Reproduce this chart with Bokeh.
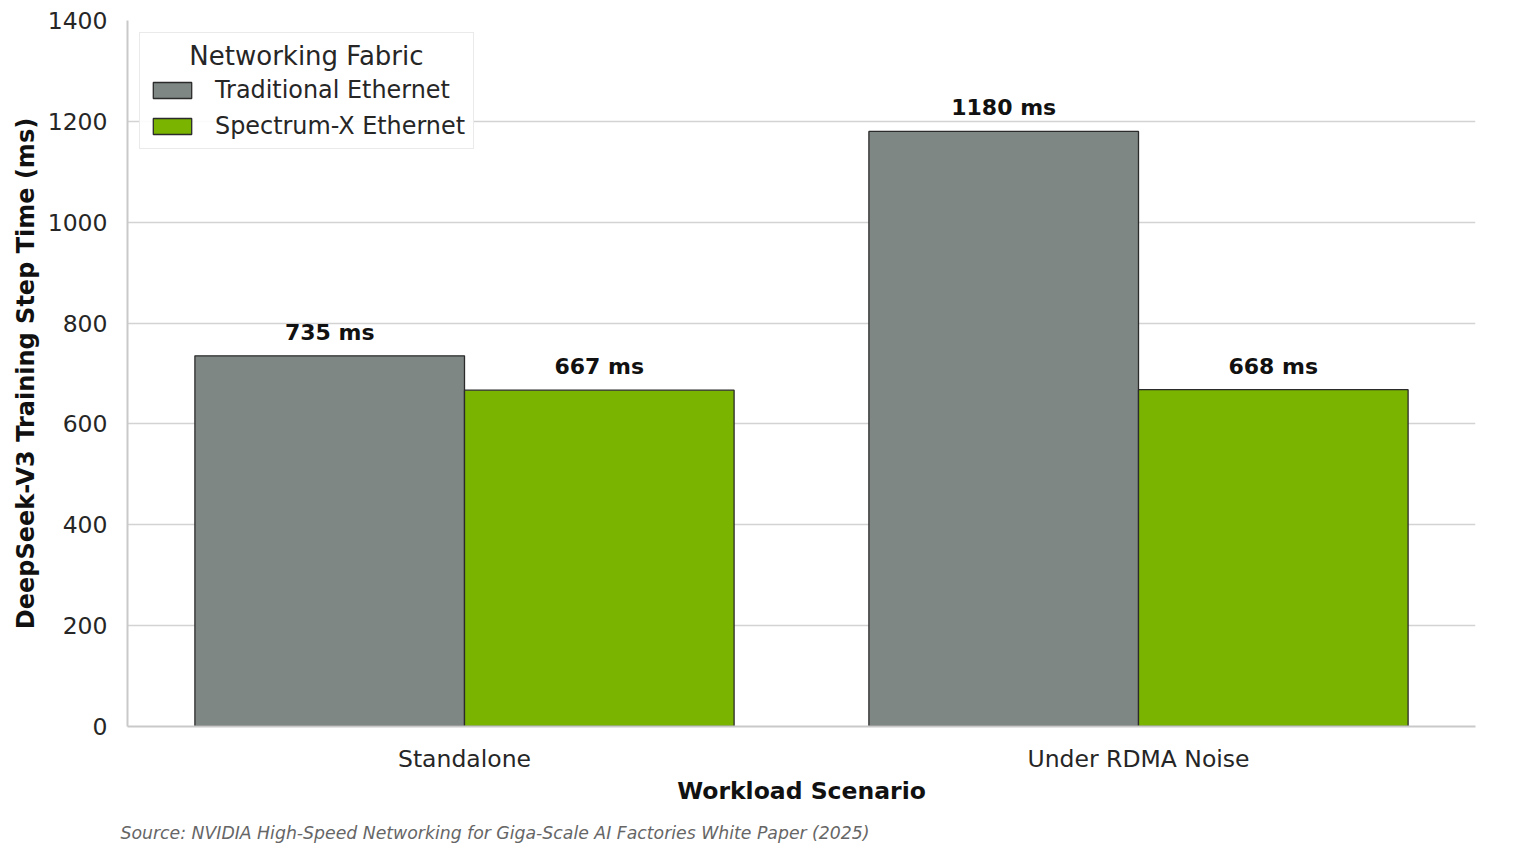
from bokeh.plotting import figure
from bokeh.models import (ColumnDataSource, FactorRange, Range1d, FixedTicker, Legend,
                          LegendItem, Title)
from bokeh.transform import dodge
from bokeh.core.properties import value
from bokeh.embed import file_html
from bokeh.resources import INLINE

# ---- data ----
scenarios = ["Standalone", "Under RDMA Noise"]
traditional = [735, 1180]
spectrum_x = [667, 668]
series_names = ["Traditional Ethernet", "Spectrum-X Ethernet"]
y_ticks = [0, 200, 400, 600, 800, 1000, 1200, 1400]
source_note = "Source: NVIDIA High-Speed Networking for Giga-Scale AI Factories White Paper (2025)"

FONT = "DejaVu Sans"
GRAY = "#7f8785"
GREEN = "#7ab300"
TXT = "#262626"

src = ColumnDataSource(dict(
    x=scenarios,
    trad=traditional,
    spec=spectrum_x,
    trad_lbl=[f"{v} ms" for v in traditional],
    spec_lbl=[f"{v} ms" for v in spectrum_x],
))

p = figure(width=1528, height=856, output_backend="svg", toolbar_location=None,
           x_range=FactorRange(*scenarios), y_range=Range1d(0, 1400),
           min_border_left=127, min_border_right=53, min_border_top=20,
           min_border_bottom=130)

r1 = p.vbar(x=dodge("x", -0.2, range=p.x_range), top="trad", width=0.4, source=src,
            fill_color=GRAY, line_color="#2b2b2b", line_width=1.3)
r2 = p.vbar(x=dodge("x", 0.2, range=p.x_range), top="spec", width=0.4, source=src,
            fill_color=GREEN, line_color="#2b2b2b", line_width=1.3)

p.text(x=dodge("x", -0.2, range=p.x_range), y="trad", text="trad_lbl", source=src,
       text_align="center", text_baseline="bottom", y_offset=-11,
       text_font=value(FONT), text_font_style="bold", text_font_size="22px", text_color="#111111")
p.text(x=dodge("x", 0.2, range=p.x_range), y="spec", text="spec_lbl", source=src,
       text_align="center", text_baseline="bottom", y_offset=-11,
       text_font=value(FONT), text_font_style="bold", text_font_size="22px", text_color="#111111")

# axes styling
p.outline_line_color = None
p.xgrid.grid_line_color = None
p.ygrid.grid_line_color = "#d3d3d3"
p.ygrid.grid_line_width = 1.5
p.yaxis.ticker = FixedTicker(ticks=y_ticks)

for ax in (p.xaxis[0], p.yaxis[0]):
    ax.axis_line_color = "#c9c9c9"
    ax.axis_line_width = 2
    ax.major_tick_line_color = None
    ax.minor_tick_line_color = None
    ax.major_tick_out = 0
    ax.major_tick_in = 0
    ax.major_label_text_font = FONT
    ax.major_label_text_font_size = "23.5px"
    ax.major_label_text_color = TXT
    ax.axis_label_text_font = FONT
    ax.axis_label_text_font_style = "bold"
    ax.axis_label_text_color = "#111111"

p.xaxis.axis_label = "Workload Scenario"
p.xaxis.axis_label_text_font_size = "23.5px"
p.xaxis.major_label_standoff = 18
p.xaxis.axis_label_standoff = 1
p.yaxis.axis_label = "DeepSeek-V3 Training Step Time (ms)"
p.yaxis.axis_label_text_font_size = "24px"
p.yaxis.major_label_standoff = 20
p.yaxis.axis_label_standoff = 5

legend = Legend(items=[LegendItem(label=series_names[0], renderers=[r1]),
                       LegendItem(label=series_names[1], renderers=[r2])],
                location="top_left")
legend.title = "\u00a0\u00a0\u00a0\u00a0\u00a0Networking Fabric"
legend.title_text_font = FONT
legend.title_text_font_size = "26px"
legend.title_text_font_style = "normal"
legend.title_text_color = TXT
legend.title_standoff = 5
legend.label_text_font = FONT
legend.label_text_font_size = "23.9px"
legend.label_text_color = TXT
legend.glyph_width = 48
legend.glyph_height = 20
legend.label_standoff = 19
legend.spacing = 8
legend.padding = 8
legend.margin = 12
legend.border_line_color = "#d6d6d6"
legend.border_line_width = 1.5
legend.background_fill_alpha = 0.9
p.add_layout(legend)

p.add_layout(Title(text=source_note, text_font=FONT, text_font_style="italic",
                   text_font_size="17.3px", text_color="#666666", align="left",
                   offset=-7, standoff=27), "below")

open("out.html", "w").write(file_html(p, INLINE))
